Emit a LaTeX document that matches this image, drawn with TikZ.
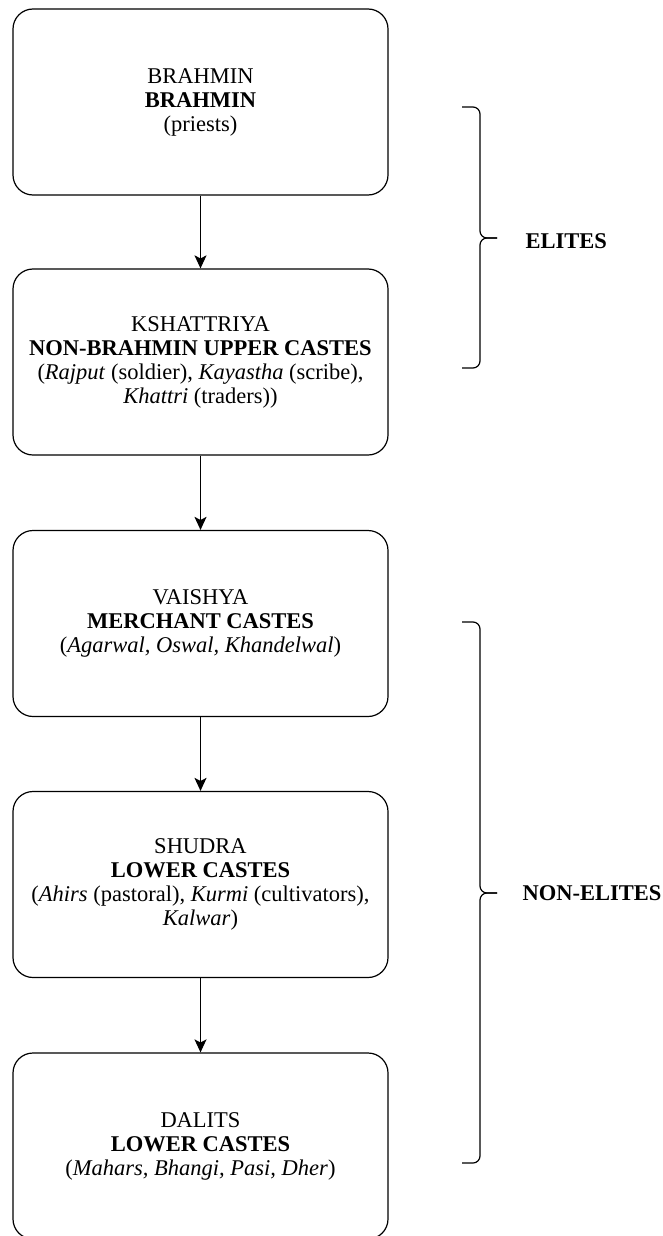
\documentclass[tikz,border=0pt]{standalone}
\usepackage{fontspec}
\setmainfont{Liberation Serif}
\usetikzlibrary{arrows.meta}

\begin{document}
\begin{tikzpicture}[x=1pt,y=-1pt,
  caste/.style={draw, line width=1.2pt, rounded corners=20pt, minimum width=375pt, minimum height=186pt, align=center, font=\fontsize{22.5}{24}\selectfont},
  link/.style={line width=1.2pt, -{Stealth[length=13pt,width=12pt,inset=3pt]}},
  bracket/.style={line width=1.2pt, rounded corners=7pt},
  group/.style={anchor=west, font=\fontsize{22.5}{24}\selectfont\bfseries}]
\useasboundingbox (0,0) rectangle (663,1236);
\node[caste] (brahmin) at (200.5,102) {BRAHMIN\\\textbf{BRAHMIN}\\(priests)};
\node[caste] (kshatriya) at (200.5,362) {KSHATTRIYA\\\textbf{NON-BRAHMIN UPPER CASTES}\\(\textit{Rajput} (soldier), \textit{Kayastha} (scribe),\\\textit{Khattri} (traders))};
\node[caste] (vaishya) at (200.5,623.5) {VAISHYA\\\textbf{MERCHANT CASTES}\\(\textit{Agarwal, Oswal, Khandelwal})};
\node[caste] (shudra) at (200.5,884.5) {SHUDRA\\\textbf{LOWER CASTES}\\(\textit{Ahirs} (pastoral), \textit{Kurmi} (cultivators),\\\textit{Kalwar})};
\node[caste] (dalits) at (200.5,1146) {DALITS\\\textbf{LOWER CASTES}\\(\textit{Mahars, Bhangi, Pasi, Dher})};
\draw[link] (brahmin) -- (kshatriya);
\draw[link] (kshatriya) -- (vaishya);
\draw[link] (vaishya) -- (shudra);
\draw[link] (shudra) -- (dalits);
% braces
\coordinate (elitetop) at (462,107);
\coordinate (elitetip) at (497,238);
\coordinate (elitebot) at (462,368);
\coordinate (nonelitetop) at (462,622);
\coordinate (nonelitetip) at (497,893);
\coordinate (nonelitebot) at (462,1163);
\draw[bracket] (elitetop) -| (480,238) -- (elitetip);
\draw[bracket] (elitetip) -- (480,238) |- (elitebot);
\draw[bracket] (nonelitetop) -| (480,893) -- (nonelitetip);
\draw[bracket] (nonelitetip) -- (480,893) |- (nonelitebot);
\node[group] (elites) at (522,241) {ELITES};
\node[group] (nonelites) at (519,893) {NON-ELITES};
\end{tikzpicture}
\end{document}
